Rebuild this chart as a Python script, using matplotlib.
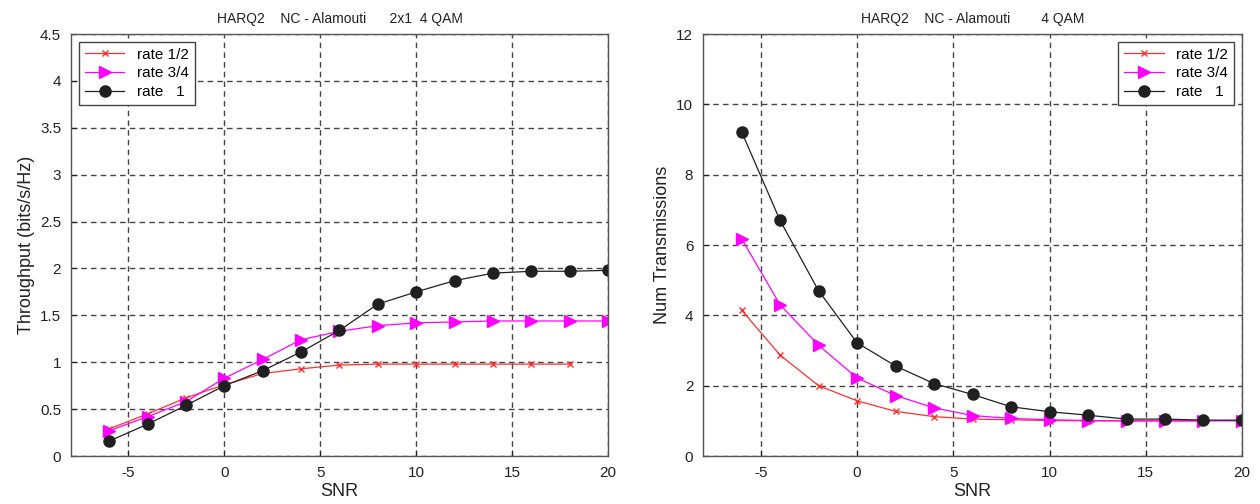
import matplotlib
matplotlib.use("Agg")
import matplotlib.pyplot as plt

plt.rcParams['font.family'] = ['Liberation Sans', 'DejaVu Sans']
plt.rcParams['axes.unicode_minus'] = False

snr = [-6, -4, -2, 0, 2, 4, 6, 8, 10, 12, 14, 16, 18, 20]

thr_r12 = [0.29, 0.45, 0.62, 0.76, 0.88, 0.93, 0.97, 0.98, 0.98, 0.98, 0.98, 0.98, 0.98]
thr_r34 = [0.27, 0.42, 0.58, 0.83, 1.03, 1.24, 1.33, 1.39, 1.42, 1.43, 1.44, 1.44, 1.44, 1.44]
thr_r1 = [0.16, 0.34, 0.54, 0.75, 0.91, 1.11, 1.34, 1.62, 1.75, 1.87, 1.95, 1.97, 1.97, 1.98]

ntx_r12 = [4.15, 2.87, 2.00, 1.57, 1.27, 1.12, 1.05, 1.03, 1.01, 1.00, 1.00, 1.00, 1.00]
ntx_r34 = [6.18, 4.30, 3.15, 2.22, 1.72, 1.37, 1.15, 1.07, 1.03, 1.01, 1.00, 1.00, 1.00, 1.00]
ntx_r1 = [9.22, 6.70, 4.70, 3.22, 2.56, 2.06, 1.75, 1.40, 1.26, 1.16, 1.05, 1.05, 1.02, 1.02]

labels = ['rate 1/2', 'rate 3/4', 'rate   1']
titles = ['HARQ2    NC - Alamouti      2x1  4 QAM', 'HARQ2    NC - Alamouti        4 QAM']
ylabels = ['Throughput (bits/s/Hz)', 'Num Transmissions']

fig = plt.figure(figsize=(12.6, 5.04), dpi=100)
ax1 = fig.add_axes([0.0563, 0.0952, 0.4262, 0.8373])
ax2 = fig.add_axes([0.558, 0.0952, 0.4277, 0.8373])

def draw(ax, r12, r34, r1, ylim, yticks, ytl, title, ylabel, legloc):
    ax.plot(snr[:len(r12)], r12, color='#ff3030', marker='x', markersize=4, lw=0.9, label=labels[0])
    ax.plot(snr[:len(r34)], r34, color='#ff00ff', marker='>', markersize=8, lw=0.9, label=labels[1])
    ax.plot(snr[:len(r1)], r1, color='#202020', marker='o', markersize=8, lw=0.9, label=labels[2])
    ax.set_xlim(-8, 20)
    ax.set_ylim(*ylim)
    ax.set_xticks([-5, 0, 5, 10, 15, 20])
    ax.set_yticks(yticks)
    ax.set_yticklabels(ytl)
    ax.grid(True, color='#444444', linestyle=(0, (4, 3)), lw=1.0)
    ax.tick_params(direction='in', length=4, labelsize=11, width=0.8, pad=7, colors='#222222')
    for s in ax.spines.values():
        s.set_color('#555555')
        s.set_linewidth(1.0)
    ax.set_title(title, fontsize=10, pad=8, color='#222222')
    ax.set_xlabel('SNR', fontsize=13, labelpad=2, color='#222222')
    ax.set_ylabel(ylabel, fontsize=13, color='#222222')
    leg = ax.legend(loc=legloc, fontsize=11, fancybox=False, framealpha=1,
                    edgecolor='#444444', borderpad=0.4, handlelength=2.6, labelspacing=0.3)
    leg.get_frame().set_linewidth(1.0)

draw(ax1, thr_r12, thr_r34, thr_r1, (0, 4.5),
     [0, 0.5, 1, 1.5, 2, 2.5, 3, 3.5, 4, 4.5],
     ['0', '0.5', '1', '1.5', '2', '2.5', '3', '3.5', '4', '4.5'],
     titles[0], ylabels[0], 'upper left')
draw(ax2, ntx_r12, ntx_r34, ntx_r1, (0, 12),
     [0, 2, 4, 6, 8, 10, 12],
     ['0', '2', '4', '6', '8', '10', '12'],
     titles[1], ylabels[1], 'upper right')

fig.savefig('out.png', dpi=100)
